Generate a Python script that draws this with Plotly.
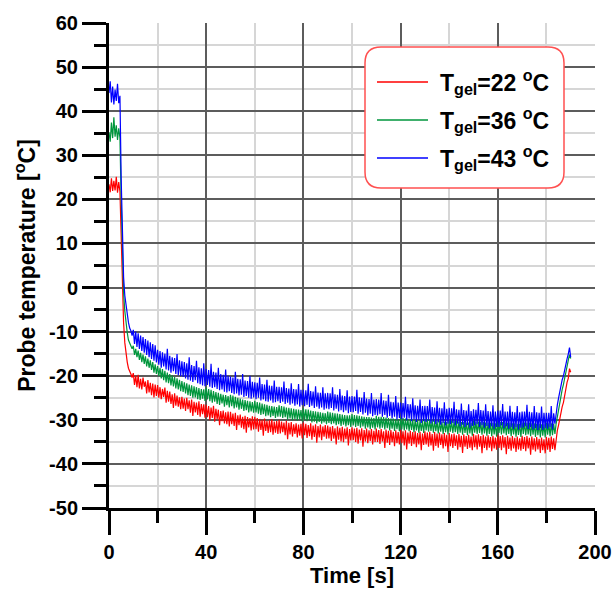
import plotly.graph_objects as go

# Probe temperature logged every 0.5 s during a freeze run, one series per gel temperature.
SAMPLE_STEP_S = 0.5

gel_temps = [22, 36, 43]
series_colors = ["#ff0000", "#00963c", "#0000ff"]

temp_gel22 = [
    23.4, 21.6, 24.8, 21.9, 24.2, 22.0, 25.1, 21.5, 23.9, 21.8, 12.0, -1.0, -8.0, -12.5, -15.2, -16.9, -18.3, -19.2, -19.6, -20.4,
    -19.4, -22.1, -20.0, -22.6, -19.8, -22.9, -20.7, -23.1, -20.4, -22.5, -21.3, -24.0, -21.0, -23.8, -21.6, -24.4, -21.8, -24.9, -22.0, -24.6,
    -22.1, -25.0, -22.6, -25.3, -23.0, -24.8, -22.7, -26.1, -23.4, -25.9, -23.6, -26.4, -24.2, -27.3, -24.0, -26.8, -24.5, -27.0, -24.9, -27.6,
    -24.8, -27.5, -25.2, -28.0, -25.0, -27.6, -25.6, -28.4, -25.4, -29.1, -25.9, -28.3, -26.1, -28.9, -25.8, -29.3, -26.4, -28.7, -26.5, -29.5,
    -26.6, -29.4, -26.9, -30.1, -27.2, -29.6, -26.8, -30.4, -27.5, -29.9, -27.7, -31.2, -28.0, -30.3, -27.9, -30.8, -28.3, -31.0, -28.1, -31.5,
    -28.2, -31.0, -28.6, -31.4, -28.4, -32.3, -29.0, -31.2, -28.8, -31.8, -29.3, -32.1, -29.1, -32.9, -29.4, -31.7, -29.6, -32.4, -29.2, -32.2,
    -29.3, -32.1, -29.6, -32.7, -29.8, -32.3, -30.0, -33.6, -29.7, -32.5, -30.2, -33.0, -30.1, -32.8, -29.9, -33.4, -30.4, -32.9, -30.3, -33.2,
    -30.0, -33.1, -30.4, -32.8, -30.6, -33.5, -30.2, -34.4, -30.7, -33.3, -30.5, -33.8, -31.0, -33.2, -30.8, -34.0, -31.1, -33.6, -30.9, -34.2,
    -30.6, -33.5, -30.9, -34.1, -31.2, -33.7, -30.8, -34.5, -31.3, -33.9, -31.0, -35.2, -31.4, -34.0, -31.1, -34.6, -31.5, -33.8, -31.2, -34.3,
    -31.3, -34.2, -31.6, -34.8, -31.4, -34.3, -31.9, -35.6, -31.5, -34.5, -31.8, -34.9, -31.6, -35.1, -32.0, -34.4, -31.7, -35.8, -32.1, -34.7,
    -31.7, -34.6, -32.0, -35.0, -31.8, -35.4, -32.2, -34.7, -31.9, -36.1, -32.3, -34.9, -32.0, -35.3, -32.4, -34.8, -32.1, -35.6, -32.5, -35.0,
    -32.0, -35.0, -32.3, -35.5, -32.1, -34.9, -32.6, -36.4, -32.2, -35.2, -32.5, -35.7, -32.3, -35.1, -32.7, -36.0, -32.4, -35.3, -32.8, -35.6,
    -32.3, -35.3, -32.6, -35.8, -32.4, -36.7, -32.9, -35.4, -32.5, -35.9, -32.8, -35.5, -32.6, -36.2, -33.0, -35.6, -32.7, -36.9, -33.1, -35.7,
    -32.6, -35.6, -32.9, -36.1, -32.7, -35.8, -33.2, -37.0, -32.8, -35.9, -33.1, -36.3, -32.9, -35.7, -33.3, -36.5, -33.0, -36.0, -33.4, -37.3,
    -33.0, -36.0, -33.3, -36.4, -33.1, -35.9, -33.5, -36.8, -33.2, -36.2, -33.6, -37.5, -33.3, -36.1, -33.7, -36.6, -33.4, -36.3, -33.8, -36.9,
    -33.2, -36.2, -33.5, -36.7, -33.3, -36.1, -33.7, -37.6, -33.4, -36.4, -33.8, -36.9, -33.5, -36.3, -33.9, -37.1, -33.6, -36.5, -34.0, -36.8,
    -33.4, -36.4, -33.7, -36.9, -33.5, -36.3, -33.9, -37.8, -33.6, -36.6, -34.0, -37.0, -33.7, -36.5, -34.1, -37.3, -33.8, -36.7, -34.2, -37.0,
    -33.6, -36.6, -33.9, -37.1, -33.7, -36.5, -34.1, -37.9, -33.8, -36.8, -34.2, -37.2, -33.9, -36.7, -34.3, -37.5, -34.0, -36.9, -34.4, -37.6,
    -33.9, -36.8, -34.1, -37.3, -33.8, -36.6, -34.2, -36.9, -34.0, -32.4, -31.2, -29.6, -28.7, -27.0, -26.1, -24.3, -23.6, -21.5, -20.6, -18.4,
    -19.2,
]

temp_gel36 = [
    35.2, 33.1, 37.4, 33.9, 38.6, 34.2, 36.8, 33.5, 36.1, 34.0, 20.0, 6.0, -1.2, -5.3, -8.1, -10.2, -11.9, -12.6, -13.5, -13.9,
    -13.2, -15.3, -13.9, -15.8, -14.3, -16.4, -14.8, -16.9, -15.2, -17.3, -15.6, -17.9, -16.1, -18.2, -16.5, -18.7, -16.9, -19.3, -17.4, -19.6,
    -17.8, -20.1, -18.2, -20.6, -18.5, -21.0, -18.9, -21.5, -19.3, -21.7, -19.6, -22.2, -19.9, -22.4, -20.3, -22.9, -20.6, -23.1, -20.9, -23.5,
    -21.2, -23.7, -21.5, -24.0, -21.7, -24.4, -22.0, -24.6, -22.2, -25.0, -22.4, -24.9, -22.6, -25.3, -22.8, -25.5, -23.0, -25.2, -23.1, -25.7,
    -22.7, -25.4, -23.0, -25.8, -23.2, -26.1, -23.5, -25.9, -23.7, -26.4, -23.9, -26.6, -24.1, -26.3, -24.3, -27.0, -24.4, -26.7, -24.6, -27.2,
    -24.3, -26.9, -24.5, -27.4, -24.8, -27.2, -25.0, -27.7, -25.2, -27.5, -25.4, -28.0, -25.5, -27.8, -25.7, -28.3, -25.8, -28.1, -26.0, -28.4,
    -25.7, -28.3, -26.0, -28.6, -26.1, -28.9, -26.3, -28.7, -26.5, -29.2, -26.6, -29.0, -26.8, -29.4, -26.9, -29.1, -27.0, -29.6, -27.1, -29.3,
    -26.7, -29.3, -26.9, -29.6, -27.0, -29.4, -27.2, -29.9, -27.3, -29.7, -27.4, -30.1, -27.5, -29.8, -27.6, -30.2, -27.7, -29.9, -27.8, -30.3,
    -27.4, -30.0, -27.6, -30.3, -27.7, -30.1, -27.9, -30.6, -28.0, -30.4, -28.1, -30.8, -28.2, -30.5, -28.3, -30.9, -28.4, -30.6, -28.5, -31.0,
    -28.1, -30.7, -28.3, -31.0, -28.4, -30.8, -28.5, -31.2, -28.6, -31.0, -28.7, -31.4, -28.8, -31.1, -28.9, -31.5, -29.0, -31.2, -29.0, -31.6,
    -28.7, -31.3, -28.9, -31.6, -29.0, -31.4, -29.1, -31.8, -29.2, -31.5, -29.3, -32.0, -29.4, -31.7, -29.4, -32.1, -29.5, -31.8, -29.6, -32.2,
    -29.1, -31.7, -29.3, -32.0, -29.3, -31.8, -29.4, -32.2, -29.5, -31.9, -29.6, -32.4, -29.7, -32.0, -29.7, -32.5, -29.8, -32.1, -29.9, -32.6,
    -29.5, -32.1, -29.6, -32.4, -29.7, -32.2, -29.8, -32.6, -29.9, -32.3, -30.0, -32.8, -30.0, -32.4, -30.1, -32.9, -30.2, -32.5, -30.2, -33.0,
    -29.8, -32.4, -29.9, -32.7, -30.0, -32.5, -30.1, -32.9, -30.2, -32.6, -30.2, -33.1, -30.3, -32.7, -30.4, -33.2, -30.4, -32.8, -30.5, -33.3,
    -30.1, -32.7, -30.2, -33.0, -30.3, -32.8, -30.3, -33.2, -30.4, -32.9, -30.5, -33.4, -30.5, -33.0, -30.6, -33.5, -30.6, -33.1, -30.7, -33.6,
    -30.3, -32.9, -30.4, -33.2, -30.4, -33.0, -30.5, -33.4, -30.5, -33.1, -30.6, -33.6, -30.6, -33.2, -30.7, -33.7, -30.7, -33.3, -30.8, -33.8,
    -30.4, -33.0, -30.5, -33.3, -30.5, -33.1, -30.6, -33.5, -30.7, -33.2, -30.7, -33.7, -30.8, -33.3, -30.8, -33.8, -30.9, -33.4, -30.9, -33.9,
    -30.6, -33.2, -30.6, -33.5, -30.7, -33.3, -30.7, -33.7, -30.8, -33.4, -30.8, -33.9, -30.9, -33.5, -30.9, -34.0, -31.0, -33.6, -31.0, -34.0,
    -30.7, -33.4, -30.8, -33.7, -30.8, -33.5, -30.9, -33.2, -30.9, -29.2, -27.8, -26.0, -24.9, -23.1, -22.0, -20.4, -19.3, -17.8, -16.5, -15.2,
    -16.1,
]

temp_gel43 = [
    44.1, 46.8, 42.0, 45.6, 41.5, 44.9, 42.3, 46.2, 41.8, 43.5, 25.0, 10.0, 2.4, -1.8, -4.3, -6.5, -7.9, -9.2, -9.8, -10.9,
    -9.6, -12.8, -10.0, -13.5, -10.4, -13.9, -10.9, -14.4, -11.2, -14.8, -11.7, -15.3, -12.0, -15.8, -12.4, -16.2, -12.8, -16.6, -13.1, -17.0,
    -14.1, -17.5, -14.4, -18.2, -14.7, -17.9, -15.0, -18.6, -13.9, -18.8, -15.5, -19.3, -15.8, -19.0, -16.0, -19.6, -15.1, -19.9, -16.5, -20.1,
    -16.7, -20.3, -16.9, -20.6, -17.2, -20.9, -15.8, -21.1, -17.6, -21.4, -17.8, -21.0, -16.6, -21.7, -18.1, -21.9, -18.3, -22.2, -17.2, -22.4,
    -18.5, -22.1, -18.7, -22.5, -17.3, -22.8, -19.1, -22.6, -19.3, -23.0, -18.2, -23.3, -19.6, -23.1, -19.8, -23.6, -18.6, -23.8, -20.0, -23.5,
    -20.2, -23.9, -20.4, -24.2, -19.1, -24.0, -20.7, -24.5, -20.8, -24.3, -19.6, -24.8, -21.1, -24.6, -21.2, -25.0, -20.0, -25.2, -21.4, -24.9,
    -21.5, -25.3, -21.6, -25.0, -20.4, -25.6, -21.9, -25.4, -22.0, -25.8, -20.9, -25.9, -22.2, -25.6, -22.3, -26.1, -21.1, -26.0, -22.5, -25.8,
    -22.5, -26.2, -22.6, -25.9, -21.3, -26.4, -22.8, -26.1, -22.9, -26.6, -21.7, -26.3, -23.0, -26.8, -23.1, -26.5, -21.9, -27.0, -23.2, -26.7,
    -23.2, -26.9, -23.3, -26.6, -21.8, -27.1, -23.5, -26.8, -23.6, -27.3, -22.4, -27.0, -23.8, -27.5, -23.9, -27.2, -22.6, -27.7, -24.0, -27.4,
    -23.9, -27.6, -24.0, -27.3, -22.6, -27.9, -24.2, -27.5, -24.3, -28.1, -23.0, -27.8, -24.5, -28.3, -24.6, -27.9, -23.3, -28.5, -24.7, -28.2,
    -24.6, -28.3, -24.7, -28.0, -23.2, -28.6, -24.9, -28.2, -25.0, -28.8, -23.7, -28.4, -25.2, -29.0, -25.3, -28.6, -23.9, -29.2, -25.4, -28.9,
    -25.3, -29.0, -25.4, -28.7, -23.9, -29.3, -25.6, -28.9, -25.7, -29.5, -24.3, -29.1, -25.9, -29.7, -26.0, -29.3, -24.6, -29.9, -26.1, -29.6,
    -26.1, -29.8, -26.2, -29.5, -24.8, -30.1, -26.4, -29.7, -26.5, -30.3, -25.1, -29.9, -26.7, -30.5, -26.8, -30.1, -25.4, -30.7, -26.9, -30.3,
    -26.8, -30.5, -26.9, -30.2, -25.4, -30.8, -27.1, -30.4, -27.2, -31.0, -25.8, -30.6, -27.3, -31.1, -27.4, -30.7, -26.0, -31.3, -27.5, -30.9,
    -27.3, -31.0, -27.4, -30.7, -25.9, -31.3, -27.6, -30.9, -27.7, -31.5, -26.3, -31.1, -27.8, -31.6, -27.9, -31.2, -26.5, -31.8, -28.0, -31.4,
    -27.6, -31.3, -27.7, -31.0, -26.2, -31.6, -27.8, -31.2, -27.9, -31.8, -26.5, -31.4, -28.0, -31.9, -28.1, -31.5, -26.7, -32.0, -28.1, -31.6,
    -27.9, -31.6, -27.9, -31.3, -26.4, -31.9, -28.1, -31.5, -28.1, -32.0, -26.8, -31.7, -28.2, -32.1, -28.3, -31.7, -26.9, -32.2, -28.3, -31.8,
    -28.1, -31.8, -28.1, -31.5, -26.6, -32.1, -28.2, -31.7, -28.3, -32.2, -26.9, -31.9, -28.3, -32.3, -28.4, -31.9, -27.0, -32.3, -28.4, -31.9,
    -28.4, -32.0, -28.4, -31.7, -26.9, -32.2, -28.5, -30.9, -28.0, -26.6, -25.1, -23.4, -22.2, -20.9, -20.1, -18.6, -17.9, -16.2, -15.1, -13.6,
    -15.8,
]

all_series = [temp_gel22, temp_gel36, temp_gel43]

x_ticks = [0, 40, 80, 120, 160, 200]
x_tick_labels = ["0", "40", "80", "120", "160", "200"]
y_ticks = [-50, -40, -30, -20, -10, 0, 10, 20, 30, 40, 50, 60]
y_tick_labels = ["-50", "-40", "-30", "-20", "-10", "0", "10", "20", "30", "40", "50", "60"]

FONT = "Liberation Sans, Arial, sans-serif"

fig = go.Figure()
for temp, color, values in zip(gel_temps, series_colors, all_series):
    times = [i * SAMPLE_STEP_S for i in range(len(values))]
    fig.add_trace(go.Scatter(
        x=times, y=values, mode="lines",
        name=f"T<sub>gel</sub>={temp} <sup>o</sup>C",
        line=dict(color=color, width=1.2),
        showlegend=False,
    ))

axis_common = dict(
    showgrid=True, gridcolor="#5c5c5c", gridwidth=1.5,
    showline=True, linecolor="black",
    ticks="outside", tickcolor="black", ticklen=24, tickwidth=2.5,
    tickfont=dict(family=FONT, size=20, color="black", weight="bold"),
    zeroline=False, automargin=False,
)

fig.update_xaxes(
    range=[0, 200], tickvals=x_ticks, ticktext=x_tick_labels, linewidth=2.5,
    minor=dict(dtick=20, tick0=0, ticks="outside", ticklen=12, tickwidth=2.5,
               tickcolor="black", showgrid=True, gridcolor="#d6d6d6", gridwidth=2),
    title=dict(text="Time [s]", font=dict(family=FONT, size=22, color="black", weight="bold"),
               standoff=3),
    **axis_common,
)
fig.update_yaxes(
    range=[-50, 60], tickvals=y_ticks, ticktext=y_tick_labels, linewidth=3,
    minor=dict(dtick=5, tick0=0, ticks="outside", ticklen=12, tickwidth=2.5,
               tickcolor="black", showgrid=True, gridcolor="#d6d6d6", gridwidth=2),
    title=dict(text="Probe temperature [<sup>o</sup>C]",
               font=dict(family=FONT, size=23, color="black", weight="bold"), standoff=8),
    **axis_common,
)

# Plot-area geometry in pixels, used to place the legend box in paper units.
PLOT_L, PLOT_R, PLOT_T, PLOT_B = 109, 595, 23, 508


def px_x(px):
    return (px - PLOT_L) / (PLOT_R - PLOT_L)


def px_y(py):
    return (PLOT_B - py) / (PLOT_B - PLOT_T)


# Rounded legend frame
bx0, bx1, by0, by1, rad = 365, 564, 47, 188, 16
path = (
    f"M {px_x(bx0 + rad)},{px_y(by0)} L {px_x(bx1 - rad)},{px_y(by0)} "
    f"Q {px_x(bx1)},{px_y(by0)} {px_x(bx1)},{px_y(by0 + rad)} "
    f"L {px_x(bx1)},{px_y(by1 - rad)} "
    f"Q {px_x(bx1)},{px_y(by1)} {px_x(bx1 - rad)},{px_y(by1)} "
    f"L {px_x(bx0 + rad)},{px_y(by1)} "
    f"Q {px_x(bx0)},{px_y(by1)} {px_x(bx0)},{px_y(by1 - rad)} "
    f"L {px_x(bx0)},{px_y(by0 + rad)} "
    f"Q {px_x(bx0)},{px_y(by0)} {px_x(bx0 + rad)},{px_y(by0)} Z"
)
fig.add_shape(type="path", path=path, xref="paper", yref="paper",
              fillcolor="white", line=dict(color="#ff5050", width=1.5), layer="above")

row_y = [82, 120, 158]
for temp, color, ry in zip(gel_temps, series_colors, row_y):
    fig.add_shape(type="line", xref="paper", yref="paper",
                  x0=px_x(377), x1=px_x(428), y0=px_y(ry), y1=px_y(ry),
                  line=dict(color=color, width=1.5), layer="above")
    fig.add_annotation(
        xref="paper", yref="paper", x=px_x(438), y=px_y(ry),
        xanchor="left", yanchor="middle", showarrow=False,
        text=f"T<sub>gel</sub>={temp} <sup>o</sup>C",
        font=dict(family=FONT, size=23, color="black", weight="bold"),
    )

fig.update_layout(
    width=616, height=591,
    margin=dict(l=PLOT_L, r=616 - PLOT_R, t=PLOT_T, b=591 - PLOT_B),
    plot_bgcolor="white", paper_bgcolor="white",
    font=dict(family=FONT, color="black"),
)

fig.write_html("out.html")
